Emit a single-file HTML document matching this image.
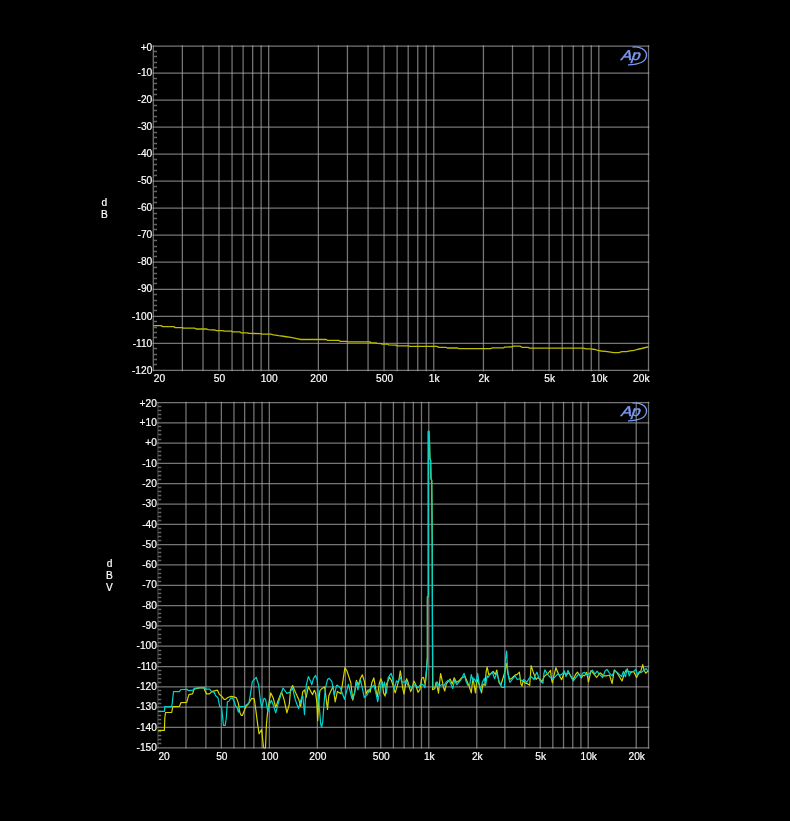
<!DOCTYPE html>
<html><head><meta charset="utf-8"><title>Audio Precision Graph</title>
<style>
html,body{margin:0;padding:0;background:#000;}
body{width:790px;height:821px;overflow:hidden;}
svg{display:block;}
.t{font-family:'Liberation Sans', Arial, sans-serif;font-size:10.2px;fill:#ffffff;stroke:#ffffff;stroke-width:0.18px;}
.logo{font-family:'Liberation Sans', Arial, sans-serif;font-size:14.5px;fill:#7b98f0;stroke:#7b98f0;stroke-width:0.45px;letter-spacing:-0.3px;}
</style></head><body>
<svg width="790" height="821" viewBox="0 0 790 821">
<rect width="790" height="821" fill="#000"/>
<path d="M152.50 46.00H649.30M152.50 73.03H649.30M152.50 100.06H649.30M152.50 127.09H649.30M152.50 154.12H649.30M152.50 181.15H649.30M152.50 208.18H649.30M152.50 235.21H649.30M152.50 262.24H649.30M152.50 289.27H649.30M152.50 316.30H649.30M152.50 343.33H649.30M152.50 370.36H649.30" stroke="#a6a6a6" stroke-opacity="0.7" stroke-width="1.25" fill="none"/>
<path d="M153.30 45.20V371.16" stroke="#a6a6a6" stroke-opacity="0.7" stroke-width="1.25" fill="none"/>
<path d="M182.37 45.20V371.16M202.99 45.20V371.16M218.99 45.20V371.16M232.06 45.20V371.16M243.11 45.20V371.16M252.68 45.20V371.16M261.13 45.20V371.16M268.68 45.20V371.16M318.37 45.20V371.16M347.44 45.20V371.16M368.06 45.20V371.16M384.06 45.20V371.16M397.13 45.20V371.16M408.18 45.20V371.16M417.75 45.20V371.16M426.20 45.20V371.16M433.75 45.20V371.16M483.44 45.20V371.16M512.51 45.20V371.16M533.13 45.20V371.16M549.13 45.20V371.16M562.20 45.20V371.16M573.25 45.20V371.16M582.82 45.20V371.16M591.27 45.20V371.16M598.82 45.20V371.16M648.50 45.20V371.16" stroke="#a6a6a6" stroke-opacity="0.7" stroke-width="1.25" fill="none"/>
<path d="M153.30 51.50H157.00M153.30 56.50H157.00M153.30 62.50H157.00M153.30 67.50H157.00M153.30 78.50H157.00M153.30 83.50H157.00M153.30 89.50H157.00M153.30 94.50H157.00M153.30 105.50H157.00M153.30 110.50H157.00M153.30 116.50H157.00M153.30 121.50H157.00M153.30 132.50H157.00M153.30 137.50H157.00M153.30 143.50H157.00M153.30 148.50H157.00M153.30 159.50H157.00M153.30 164.50H157.00M153.30 170.50H157.00M153.30 175.50H157.00M153.30 186.50H157.00M153.30 191.50H157.00M153.30 197.50H157.00M153.30 202.50H157.00M153.30 213.50H157.00M153.30 218.50H157.00M153.30 224.50H157.00M153.30 229.50H157.00M153.30 240.50H157.00M153.30 246.50H157.00M153.30 251.50H157.00M153.30 256.50H157.00M153.30 267.50H157.00M153.30 273.50H157.00M153.30 278.50H157.00M153.30 283.50H157.00M153.30 294.50H157.00M153.30 300.50H157.00M153.30 305.50H157.00M153.30 310.50H157.00M153.30 321.50H157.00M153.30 327.50H157.00M153.30 332.50H157.00M153.30 337.50H157.00M153.30 348.50H157.00M153.30 354.50H157.00M153.30 359.50H157.00M153.30 364.50H157.00" stroke="#666666" stroke-width="1.3" fill="none"/>
<text x="152.30" y="50.80" text-anchor="end" class="t">+0</text>
<text x="152.30" y="76.23" text-anchor="end" class="t">-10</text>
<text x="152.30" y="103.26" text-anchor="end" class="t">-20</text>
<text x="152.30" y="130.29" text-anchor="end" class="t">-30</text>
<text x="152.30" y="157.32" text-anchor="end" class="t">-40</text>
<text x="152.30" y="184.35" text-anchor="end" class="t">-50</text>
<text x="152.30" y="211.38" text-anchor="end" class="t">-60</text>
<text x="152.30" y="238.41" text-anchor="end" class="t">-70</text>
<text x="152.30" y="265.44" text-anchor="end" class="t">-80</text>
<text x="152.30" y="292.47" text-anchor="end" class="t">-90</text>
<text x="152.30" y="319.50" text-anchor="end" class="t">-100</text>
<text x="152.30" y="346.53" text-anchor="end" class="t">-110</text>
<text x="152.30" y="373.56" text-anchor="end" class="t">-120</text>
<text x="153.80" y="382.36" text-anchor="start" class="t">20</text>
<text x="219.49" y="382.36" text-anchor="middle" class="t">50</text>
<text x="269.18" y="382.36" text-anchor="middle" class="t">100</text>
<text x="318.87" y="382.36" text-anchor="middle" class="t">200</text>
<text x="384.56" y="382.36" text-anchor="middle" class="t">500</text>
<text x="434.25" y="382.36" text-anchor="middle" class="t">1k</text>
<text x="483.94" y="382.36" text-anchor="middle" class="t">2k</text>
<text x="549.63" y="382.36" text-anchor="middle" class="t">5k</text>
<text x="599.32" y="382.36" text-anchor="middle" class="t">10k</text>
<text x="649.50" y="382.36" text-anchor="end" class="t">20k</text>
<path d="M157.10 402.50H649.30M157.10 422.81H649.30M157.10 443.12H649.30M157.10 463.43H649.30M157.10 483.74H649.30M157.10 504.05H649.30M157.10 524.36H649.30M157.10 544.67H649.30M157.10 564.98H649.30M157.10 585.29H649.30M157.10 605.60H649.30M157.10 625.91H649.30M157.10 646.22H649.30M157.10 666.53H649.30M157.10 686.84H649.30M157.10 707.15H649.30M157.10 727.46H649.30M157.10 747.77H649.30" stroke="#a6a6a6" stroke-opacity="0.7" stroke-width="1.25" fill="none"/>
<path d="M157.90 401.70V748.57" stroke="#a6a6a6" stroke-opacity="0.35" stroke-width="1.25" fill="none"/>
<path d="M185.98 401.70V748.57M205.90 401.70V748.57M221.35 401.70V748.57M233.97 401.70V748.57M244.65 401.70V748.57M253.89 401.70V748.57M262.05 401.70V748.57M269.34 401.70V748.57M317.34 401.70V748.57M345.42 401.70V748.57M365.34 401.70V748.57M380.79 401.70V748.57M393.41 401.70V748.57M404.09 401.70V748.57M413.33 401.70V748.57M421.49 401.70V748.57M428.78 401.70V748.57M476.78 401.70V748.57M504.86 401.70V748.57M524.78 401.70V748.57M540.23 401.70V748.57M552.85 401.70V748.57M563.53 401.70V748.57M572.77 401.70V748.57M580.93 401.70V748.57M588.22 401.70V748.57M636.22 401.70V748.57M648.50 401.70V748.57" stroke="#a6a6a6" stroke-opacity="0.7" stroke-width="1.25" fill="none"/>
<path d="M157.90 406.50H161.30M157.90 410.50H161.30M157.90 414.50H161.30M157.90 418.50H161.30M157.90 426.50H161.30M157.90 430.50H161.30M157.90 434.50H161.30M157.90 439.50H161.30M157.90 447.50H161.30M157.90 451.50H161.30M157.90 455.50H161.30M157.90 459.50H161.30M157.90 467.50H161.30M157.90 471.50H161.30M157.90 475.50H161.30M157.90 479.50H161.30M157.90 487.50H161.30M157.90 491.50H161.30M157.90 495.50H161.30M157.90 499.50H161.30M157.90 508.50H161.30M157.90 512.50H161.30M157.90 516.50H161.30M157.90 520.50H161.30M157.90 528.50H161.30M157.90 532.50H161.30M157.90 536.50H161.30M157.90 540.50H161.30M157.90 548.50H161.30M157.90 552.50H161.30M157.90 556.50H161.30M157.90 560.50H161.30M157.90 569.50H161.30M157.90 573.50H161.30M157.90 577.50H161.30M157.90 581.50H161.30M157.90 589.50H161.30M157.90 593.50H161.30M157.90 597.50H161.30M157.90 601.50H161.30M157.90 609.50H161.30M157.90 613.50H161.30M157.90 617.50H161.30M157.90 621.50H161.30M157.90 629.50H161.30M157.90 634.50H161.30M157.90 638.50H161.30M157.90 642.50H161.30M157.90 650.50H161.30M157.90 654.50H161.30M157.90 658.50H161.30M157.90 662.50H161.30M157.90 670.50H161.30M157.90 674.50H161.30M157.90 678.50H161.30M157.90 682.50H161.30M157.90 690.50H161.30M157.90 694.50H161.30M157.90 699.50H161.30M157.90 703.50H161.30M157.90 711.50H161.30M157.90 715.50H161.30M157.90 719.50H161.30M157.90 723.50H161.30M157.90 731.50H161.30M157.90 735.50H161.30M157.90 739.50H161.30M157.90 743.50H161.30" stroke="#666666" stroke-width="1.3" fill="none"/>
<text x="156.90" y="407.30" text-anchor="end" class="t">+20</text>
<text x="156.90" y="426.01" text-anchor="end" class="t">+10</text>
<text x="156.90" y="446.32" text-anchor="end" class="t">+0</text>
<text x="156.90" y="466.63" text-anchor="end" class="t">-10</text>
<text x="156.90" y="486.94" text-anchor="end" class="t">-20</text>
<text x="156.90" y="507.25" text-anchor="end" class="t">-30</text>
<text x="156.90" y="527.56" text-anchor="end" class="t">-40</text>
<text x="156.90" y="547.87" text-anchor="end" class="t">-50</text>
<text x="156.90" y="568.18" text-anchor="end" class="t">-60</text>
<text x="156.90" y="588.49" text-anchor="end" class="t">-70</text>
<text x="156.90" y="608.80" text-anchor="end" class="t">-80</text>
<text x="156.90" y="629.11" text-anchor="end" class="t">-90</text>
<text x="156.90" y="649.42" text-anchor="end" class="t">-100</text>
<text x="156.90" y="669.73" text-anchor="end" class="t">-110</text>
<text x="156.90" y="690.04" text-anchor="end" class="t">-120</text>
<text x="156.90" y="710.35" text-anchor="end" class="t">-130</text>
<text x="156.90" y="730.66" text-anchor="end" class="t">-140</text>
<text x="156.90" y="750.97" text-anchor="end" class="t">-150</text>
<text x="158.40" y="759.77" text-anchor="start" class="t">20</text>
<text x="221.85" y="759.77" text-anchor="middle" class="t">50</text>
<text x="269.84" y="759.77" text-anchor="middle" class="t">100</text>
<text x="317.84" y="759.77" text-anchor="middle" class="t">200</text>
<text x="381.29" y="759.77" text-anchor="middle" class="t">500</text>
<text x="429.28" y="759.77" text-anchor="middle" class="t">1k</text>
<text x="477.28" y="759.77" text-anchor="middle" class="t">2k</text>
<text x="540.73" y="759.77" text-anchor="middle" class="t">5k</text>
<text x="588.72" y="759.77" text-anchor="middle" class="t">10k</text>
<text x="636.72" y="759.77" text-anchor="middle" class="t">20k</text>
<g transform="translate(620.0 46.0)">
<text transform="translate(0.3 14.0) scale(1.1 0.97) skewX(-17)" class="logo">Ap</text>
<path d="M12.5 1.2 C19 0, 27 3.5, 26.5 9.5 C26 15, 20 18.6, 8 18.8" stroke="#7b98f0" stroke-width="1.3" fill="none"/>
</g>
<g transform="translate(620.0 402.0)">
<text transform="translate(0.3 14.0) scale(1.1 0.97) skewX(-17)" class="logo">Ap</text>
<path d="M12.5 1.2 C19 0, 27 3.5, 26.5 9.5 C26 15, 20 18.6, 8 18.8" stroke="#7b98f0" stroke-width="1.3" fill="none"/>
</g>
<text x="104.40" y="206.00" text-anchor="middle" class="t">d</text>
<text x="104.40" y="218.00" text-anchor="middle" class="t">B</text>
<text x="109.50" y="567.00" text-anchor="middle" class="t">d</text>
<text x="109.50" y="579.00" text-anchor="middle" class="t">B</text>
<text x="109.50" y="591.00" text-anchor="middle" class="t">V</text>
<polyline points="153.5,325.6 161.1,325.6 162.7,326.6 173.8,326.6 175.3,327.6 182.4,327.6 183.4,328.1 194.6,328.1 196.0,329.0 206.7,329.0 208.2,329.7 214.8,330.0 216.3,330.6 222.9,330.6 224.4,331.2 231.6,331.1 232.6,331.9 239.7,331.9 241.2,332.8 247.3,332.8 248.8,333.4 260.4,333.6 262.0,334.2 270.6,334.2 273.6,334.9 278.7,335.7 284.7,336.5 290.8,337.4 296.9,338.6 300.9,339.5 326.3,339.4 327.3,340.4 339.0,340.4 340.0,341.3 346.6,341.4 347.6,341.9 369.9,341.9 370.9,342.6 376.0,342.8 377.0,343.4 381.1,343.6 382.1,344.1 387.7,344.1 388.7,344.9 395.8,345.1 397.3,345.8 408.4,345.8 409.9,346.4 436.8,346.4 438.8,347.3 445.9,347.4 447.4,348.0 457.6,348.0 459.1,348.6 490.5,348.6 492.5,347.8 503.7,347.8 504.7,347.1 512.3,346.9 513.3,346.1 519.9,346.1 521.9,347.3 528.0,347.3 529.6,348.1 583.7,348.1 585.8,348.8 590.3,348.9 595.3,349.5 597.6,350.3 601.4,351.0 607.5,351.6 613.5,352.6 618.9,352.6 621.9,351.7 626.4,351.6 630.2,350.8 634.0,350.4 637.1,349.5 641.6,348.5 645.4,347.5 648.5,346.8" stroke="#bcbc00" stroke-width="1.3" fill="none" stroke-linejoin="round"/>
<polyline points="158.2,730.4 164.4,730.4 164.8,718.0 165.5,712.5 171.7,712.5 172.8,706.7 179.4,706.5 180.9,702.7 186.7,702.3 187.8,698.3 188.9,694.6 192.5,693.9 194.0,689.5 194.7,688.8 199.9,688.0 204.0,687.7 205.1,691.0 206.6,693.9 209.5,693.9 211.7,691.7 215.4,690.6 217.5,690.2 219.4,694.6 221.2,695.7 224.1,699.4 225.6,699.4 227.8,697.5 231.4,696.4 233.6,696.8 236.5,697.9 238.4,703.4 239.8,712.2 241.3,715.5 242.4,715.5 244.2,710.7 246.1,706.3 248.2,704.1 251.8,698.3 254.3,698.8 255.7,709.0 257.7,724.6 259.1,733.8 261.6,729.5 263.5,747.0 264.0,748.0 265.5,748.0 266.4,724.6 267.9,709.0 270.8,692.9 273.3,698.3 275.7,707.5 278.6,699.2 281.5,691.9 284.0,699.2 286.9,712.9 289.3,704.1 290.5,690.0 292.6,685.6 295.1,691.6 299.0,700.1 300.7,706.5 302.8,691.6 304.5,689.9 306.2,697.5 308.3,686.5 311.3,692.4 312.6,694.6 314.3,690.3 315.6,692.9 316.9,702.7 317.7,720.6 318.6,703.5 319.9,690.7 322.4,688.2 324.6,686.9 325.8,695.8 327.5,709.5 328.8,695.8 331.0,690.7 333.1,686.5 335.2,701.8 337.4,691.4 340.9,693.8 342.9,681.1 344.9,667.7 346.9,670.8 349.2,677.9 350.8,682.7 352.8,700.1 354.8,691.4 356.4,680.3 358.3,685.1 360.3,678.7 362.3,674.8 364.3,681.1 366.3,693.8 368.2,689.8 370.2,692.2 371.8,682.7 373.8,677.9 375.3,686.6 377.3,696.9 379.3,683.5 380.9,678.7 382.5,684.0 383.5,692.9 385.1,696.1 386.3,684.7 387.9,680.9 389.5,677.4 391.4,680.3 393.0,685.3 395.2,692.9 397.4,685.3 399.0,679.6 400.3,670.8 401.5,678.4 402.5,687.2 404.0,694.2 405.0,687.8 406.6,678.7 407.8,681.5 409.1,686.6 410.7,691.6 412.3,687.8 413.9,680.9 415.4,684.0 418.0,692.3 419.9,689.7 421.6,678.6 423.5,677.3 425.2,684.6 426.6,669.0 427.4,657.0 427.4,597.0 428.3,596.0 428.3,431.5 428.8,431.2 429.5,441.0 429.9,459.0 430.6,460.0 431.0,479.0 431.7,480.0 432.2,540.0 432.5,640.0 432.6,689.7 434.6,688.8 436.3,682.0 438.5,693.1 440.6,673.5 442.3,681.1 443.5,687.2 444.7,691.0 446.3,684.0 448.2,681.5 450.1,679.0 452.3,684.0 454.2,677.7 456.5,682.2 459.0,680.9 461.8,677.7 465.0,676.5 466.6,680.3 469.1,686.0 471.3,692.9 472.9,677.7 474.5,687.2 475.4,692.9 477.0,679.0 478.3,682.2 479.9,686.6 481.5,692.9 483.0,684.0 484.9,685.3 486.2,671.4 487.2,667.0 488.7,674.6 490.9,673.6 493.1,671.4 495.3,674.4 496.8,670.0 499.0,682.4 500.8,685.3 502.6,679.5 504.8,672.2 506.3,663.4 507.0,667.0 507.7,672.9 509.6,679.5 512.1,678.0 515.0,675.1 517.2,674.4 519.4,672.2 520.9,683.9 522.0,686.1 523.1,680.9 525.3,683.1 527.8,683.9 529.7,685.3 531.1,665.6 533.0,671.4 534.8,676.5 536.2,679.5 537.5,677.8 539.7,678.8 542.0,681.6 543.9,677.2 545.4,675.3 547.7,674.0 550.5,670.3 551.5,679.1 552.4,682.9 553.7,676.6 555.9,667.7 557.2,670.9 559.1,675.3 561.6,679.7 564.1,672.8 566.3,674.7 568.9,672.8 571.1,676.6 573.0,679.7 575.5,674.7 577.4,672.2 579.3,674.7 581.5,677.8 583.1,675.3 584.6,675.8 586.7,672.4 588.5,681.8 591.0,670.7 594.0,674.1 596.6,677.5 600.1,672.8 603.5,675.8 607.0,675.8 609.5,675.0 612.1,683.6 614.3,669.8 617.3,673.2 619.9,677.5 622.0,681.0 624.2,674.1 626.3,669.8 628.5,671.5 631.1,672.4 633.6,671.5 636.6,677.5 638.8,673.2 640.5,672.4 642.7,664.6 644.0,669.8 645.7,673.2 648.3,670.7" stroke="#d4d400" stroke-width="1.2" fill="none" stroke-linejoin="round"/>
<polyline points="158.2,711.4 164.4,711.4 164.8,706.7 171.7,706.7 172.4,701.9 173.2,694.6 173.5,691.7 179.4,691.7 180.9,689.5 187.4,689.4 188.2,690.6 192.9,690.2 194.4,688.4 199.9,687.7 204.0,687.3 205.5,689.1 209.5,689.1 211.7,691.7 214.3,692.4 215.7,695.7 217.9,697.5 219.7,706.3 221.6,707.4 223.0,720.9 223.4,725.3 225.2,725.3 226.3,718.0 227.4,701.9 228.9,701.2 230.7,698.3 232.5,697.9 234.4,701.9 235.5,706.0 236.9,707.0 238.4,712.2 239.8,706.7 243.9,706.3 245.0,706.1 248.9,703.1 250.4,694.4 252.3,681.7 256.2,677.3 258.6,684.6 260.1,698.3 261.6,708.0 264.0,698.3 265.5,699.2 267.9,711.9 269.4,705.1 271.3,700.2 273.3,705.1 275.7,712.9 278.6,702.2 283.0,688.0 286.9,693.4 289.8,692.4 292.6,688.2 295.1,699.2 298.5,708.6 301.1,699.2 302.8,695.8 304.5,714.6 306.2,685.6 308.3,676.6 310.5,680.9 311.8,684.7 313.5,678.3 315.6,675.4 317.3,680.5 318.6,698.4 319.4,708.6 320.7,724.0 321.6,727.4 322.8,721.4 324.1,702.7 325.4,688.2 327.5,679.6 329.2,678.3 331.8,681.3 333.1,688.2 334.4,695.0 336.5,685.6 337.4,685.1 340.5,688.2 344.5,699.3 348.4,684.3 352.0,698.5 354.4,693.8 356.4,681.9 357.9,689.8 360.3,679.5 362.3,688.2 364.3,697.7 367.4,694.6 369.8,689.0 373.8,685.1 375.7,692.2 377.7,701.7 379.7,692.2 381.7,681.1 383.3,687.4 384.4,682.2 386.3,693.5 388.2,677.7 391.1,673.3 392.7,678.4 394.2,689.1 396.5,680.9 397.7,682.2 400.3,677.1 401.8,681.8 404.4,682.2 405.9,680.3 407.8,685.3 410.1,686.0 412.0,688.5 414.2,684.7 416.1,685.3 418.0,687.8 419.9,685.3 421.5,684.0 423.7,685.3 424.9,687.8 425.6,681.1 426.6,669.0 427.4,657.0 427.4,597.0 428.3,596.0 428.3,431.5 428.8,431.2 429.5,441.0 429.9,459.0 430.6,460.0 431.0,479.0 431.7,480.0 432.2,540.0 432.5,640.0 432.9,687.1 435.0,688.0 437.2,682.0 439.3,686.3 441.4,684.6 443.8,686.0 446.0,682.2 448.2,680.3 450.4,682.8 452.7,688.5 454.6,680.3 456.8,684.7 459.0,682.2 461.5,679.0 464.1,673.3 465.9,680.9 467.8,685.3 469.7,685.3 471.3,674.6 472.9,680.9 474.5,679.0 476.1,682.2 477.7,673.3 479.2,684.7 480.5,690.4 482.4,682.2 484.3,678.4 485.6,685.3 487.2,675.8 488.0,677.3 490.2,674.4 492.4,672.2 494.6,678.7 496.8,672.9 499.0,680.9 501.9,687.5 504.4,687.5 505.5,659.0 506.6,651.0 507.4,667.0 508.5,676.5 509.9,682.4 512.9,678.7 515.0,675.8 517.2,679.5 519.4,678.7 522.4,680.9 523.8,679.5 526.7,682.4 528.9,678.7 531.1,676.5 534.1,679.5 535.0,676.0 536.9,672.2 538.8,677.8 540.1,681.0 542.9,683.2 543.9,674.0 544.8,669.9 547.0,673.4 548.9,676.0 550.8,677.8 553.0,679.1 555.3,676.6 557.8,674.0 560.3,675.3 562.8,673.4 564.4,670.9 566.0,676.6 567.9,670.3 569.8,674.7 573.3,681.0 576.1,677.2 578.7,674.0 580.6,676.6 583.1,672.8 584.6,672.4 587.2,675.0 589.7,673.2 592.3,670.2 594.9,674.1 597.1,671.1 599.2,674.1 602.7,677.5 605.2,670.7 607.0,669.4 609.5,673.2 612.1,675.8 614.7,670.7 618.1,673.2 621.6,676.7 623.3,671.5 625.5,676.7 627.2,668.5 629.3,675.8 631.1,671.5 633.6,671.5 635.8,669.4 637.5,675.0 639.2,671.5 641.4,672.4 644.0,670.2 646.1,668.5 648.3,671.5" stroke="#00d4d0" stroke-width="1.2" fill="none" stroke-linejoin="round"/>
</svg>
</body></html>
